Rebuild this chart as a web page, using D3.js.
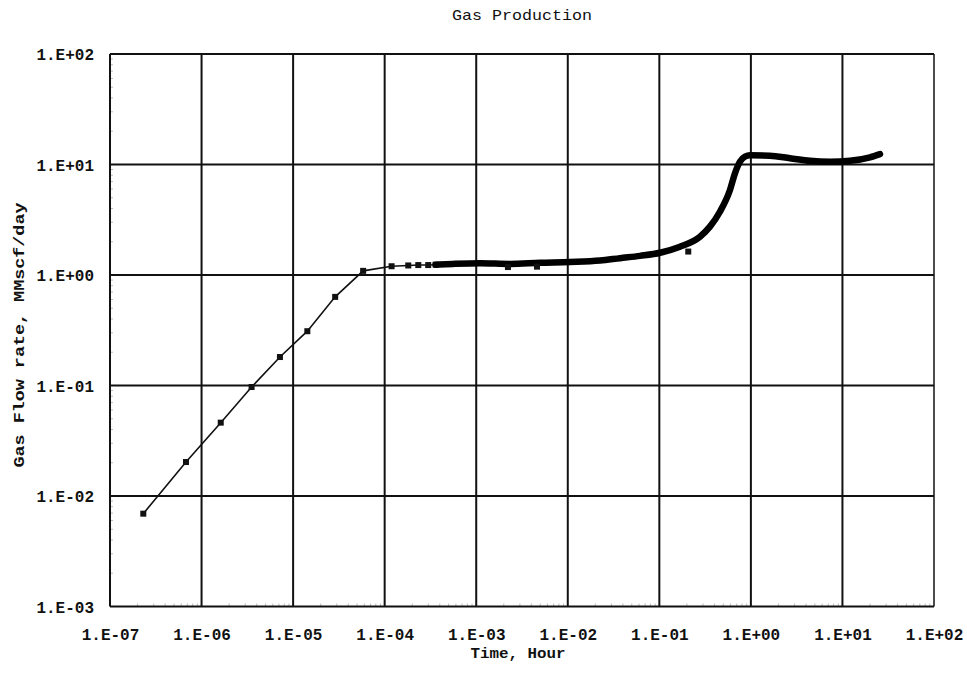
<!DOCTYPE html>
<html>
<head>
<meta charset="utf-8">
<script src="https://cdn.jsdelivr.net/npm/d3@7"></script>
<style>
  html, body { margin: 0; padding: 0; background: #fff; }
  svg { display: block; }
  text { font-family: "Liberation Mono", "DejaVu Sans Mono", monospace; fill: #111; }
</style>
</head>
<body>
<svg id="chart" width="967" height="674"></svg>
<script>
// Tick values and their printed labels
const xTicks = [1e-7, 1e-6, 1e-5, 1e-4, 1e-3, 1e-2, 1e-1, 1e0, 1e1, 1e2];
const xTickLabels = ["1.E-07", "1.E-06", "1.E-05", "1.E-04", "1.E-03", "1.E-02", "1.E-01", "1.E+00", "1.E+01", "1.E+02"];
const yTicks = [1e-3, 1e-2, 1e-1, 1e0, 1e1, 1e2];
const yTickLabels = ["1.E-03", "1.E-02", "1.E-01", "1.E+00", "1.E+01", "1.E+02"];

// Early-time measured rates (hours, MMscf/day), drawn with square markers
const earlyTime = [2.31e-7, 6.76e-7, 1.62e-6, 3.52e-6, 7.18e-6, 1.43e-5, 2.88e-5, 5.82e-5, 1.19e-4, 1.81e-4, 2.33e-4, 2.99e-4, 3.6e-4];
const earlyRate = [0.00692, 0.0203, 0.0461, 0.0969, 0.181, 0.310, 0.634, 1.09, 1.20, 1.22, 1.23, 1.23, 1.24];

// Dense production record (hours, MMscf/day)
const denseTime = [3.6e-4, 5.5e-4, 1.10e-3, 2.34e-3, 4.97e-3, 1.06e-2, 2.25e-2, 3.72e-2, 6.15e-2, 0.102, 0.168, 0.278, 0.357, 0.459, 0.591, 0.670, 0.760, 0.861, 0.977, 1.61, 2.67, 4.42, 7.31, 12.1, 20.0, 25.7];
const denseRate = [1.24, 1.26, 1.28, 1.26, 1.29, 1.31, 1.35, 1.42, 1.49, 1.59, 1.80, 2.22, 2.74, 3.74, 5.88, 8.32, 10.6, 11.8, 12.1, 12.0, 11.4, 10.8, 10.6, 10.8, 11.6, 12.4];

// Scattered readings just off the main trend
const strayTime = [2.22e-3, 4.61e-3, 0.207];
const strayRate = [1.18, 1.19, 1.63];

const svg = d3.select("#chart");
const plotLeft = 110, plotRight = 934, plotTop = 54, plotBottom = 606.5;

const x = d3.scaleLog().domain([1e-7, 1e2]).range([plotLeft, plotRight]);
const y = d3.scaleLog().domain([1e-3, 1e2]).range([plotBottom, plotTop]);

// Faint minor ticks along the left and bottom edges
const minorX = [];
for (let e = -7; e < 2; e++) for (let m = 2; m <= 9; m++) minorX.push(m * Math.pow(10, e));
const minorY = [];
for (let e = -3; e < 2; e++) for (let m = 2; m <= 9; m++) minorY.push(m * Math.pow(10, e));

svg.append("g").selectAll("line").data(minorY).join("line")
  .attr("x1", plotLeft).attr("x2", plotLeft + 3)
  .attr("y1", d => y(d)).attr("y2", d => y(d))
  .attr("stroke", "#bbb").attr("stroke-width", 1);
svg.append("g").selectAll("line").data(minorX).join("line")
  .attr("x1", d => x(d)).attr("x2", d => x(d))
  .attr("y1", plotBottom).attr("y2", plotBottom - 3)
  .attr("stroke", "#bbb").attr("stroke-width", 1);

// Major grid
svg.append("g").selectAll("line").data(xTicks).join("line")
  .attr("x1", d => x(d)).attr("x2", d => x(d))
  .attr("y1", plotTop).attr("y2", plotBottom)
  .attr("stroke", "#111").attr("stroke-width", d => (d === 1e2 ? 1.5 : 2));
svg.append("g").selectAll("line").data(yTicks).join("line")
  .attr("x1", plotLeft).attr("x2", plotRight)
  .attr("y1", d => y(d)).attr("y2", d => y(d))
  .attr("stroke", "#111").attr("stroke-width", 2);

// Tick labels via d3 axes (lines hidden, text only)
const xAxis = d3.axisBottom(x).tickValues(xTicks).tickSize(0)
  .tickFormat((d, i) => xTickLabels[i]);
const gx = svg.append("g").attr("transform", `translate(0,${plotBottom})`).call(xAxis);
gx.select(".domain").remove();
gx.selectAll("text")
  .attr("dy", 0).attr("y", 33)
  .style("font-size", "16px").style("font-weight", "bold")
  .attr("fill", "#111");

const yAxis = d3.axisLeft(y).tickValues(yTicks).tickSize(0)
  .tickFormat((d, i) => yTickLabels[i]);
const gy = svg.append("g").attr("transform", `translate(${plotLeft},0)`).call(yAxis);
gy.select(".domain").remove();
gy.selectAll("text")
  .attr("x", -16).attr("dy", "0.35em")
  .style("font-size", "16px").style("font-weight", "bold")
  .attr("fill", "#111");

// Titles
svg.append("text")
  .attr("x", (plotLeft + plotRight) / 2).attr("y", 20)
  .attr("text-anchor", "middle")
  .attr("textLength", 140).attr("lengthAdjust", "spacingAndGlyphs")
  .style("font-size", "15px")
  .text("Gas Production");

svg.append("text")
  .attr("x", 518).attr("y", 658)
  .attr("text-anchor", "middle")
  .attr("textLength", 95).attr("lengthAdjust", "spacingAndGlyphs")
  .style("font-size", "15px").style("font-weight", "bold")
  .text("Time, Hour");

svg.append("text")
  .attr("transform", `translate(24,${335}) rotate(-90)`)
  .attr("text-anchor", "middle")
  .attr("textLength", 265).attr("lengthAdjust", "spacingAndGlyphs")
  .style("font-size", "15px").style("font-weight", "bold")
  .text("Gas Flow rate, MMscf/day");

// Early-time trend: thin polyline through the markers
const early = earlyTime.map((t, i) => [t, earlyRate[i]]);
svg.append("path")
  .datum(early)
  .attr("fill", "none").attr("stroke", "#111").attr("stroke-width", 1.6)
  .attr("d", d3.line().x(d => x(d[0])).y(d => y(d[1])));

svg.append("g").selectAll("rect").data(early).join("rect")
  .attr("x", d => x(d[0]) - 3).attr("y", d => y(d[1]) - 3)
  .attr("width", 6).attr("height", 6)
  .attr("fill", "#111");

// Dense record: heavy band
const dense = denseTime.map((t, i) => [t, denseRate[i]]);
svg.append("path")
  .datum(dense)
  .attr("fill", "none").attr("stroke", "#000").attr("stroke-width", 6.5)
  .attr("stroke-linecap", "round").attr("stroke-linejoin", "round")
  .attr("d", d3.line().curve(d3.curveMonotoneX).x(d => x(d[0])).y(d => y(d[1])));

// Stray readings
const stray = strayTime.map((t, i) => [t, strayRate[i]]);
svg.append("g").selectAll("rect").data(stray).join("rect")
  .attr("x", d => x(d[0]) - 3).attr("y", d => y(d[1]) - 3)
  .attr("width", 6).attr("height", 6)
  .attr("fill", "#111");
</script>
</body>
</html>
